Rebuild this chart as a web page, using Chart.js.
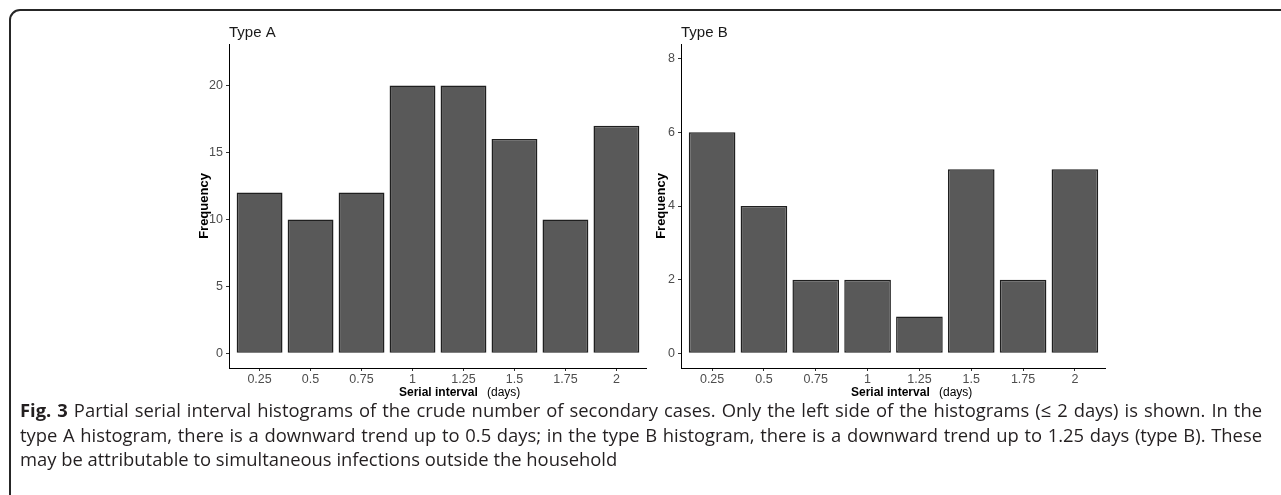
<!DOCTYPE html>
<html>
<head>
<meta charset="utf-8">
<script src="https://cdn.jsdelivr.net/npm/chart.js@4.4.1/dist/chart.umd.min.js"></script>
<style>
body{margin:0;background:#fff;width:1281px;height:495px;overflow:hidden;position:relative;font-family:"Liberation Sans",Arial,sans-serif}
#frame{position:absolute;left:9px;top:9px;width:1500px;height:600px;border:2px solid #262626;border-radius:11px}
canvas{position:absolute}
#chartA{left:190px;top:14px}
#chartB{left:640px;top:14px}
#caption{position:absolute;left:20px;top:398px;width:1242px;font-family:"Open Sans",sans-serif;font-size:18.4px;line-height:24.5px;color:#231f20}
#caption div{white-space:nowrap}
</style>
</head>
<body>
<div id="frame"></div>
<canvas id="chartA" width="457" height="394"></canvas>
<canvas id="chartB" width="466" height="394"></canvas>
<div id="caption">
<div><span class="fit"><b>Fig. 3</b> Partial serial interval histograms of the crude number of secondary cases. Only the left side of the histograms (≤ 2 days) is shown. In the</span></div>
<div><span class="fit">type A histogram, there is a downward trend up to 0.5 days; in the type B histogram, there is a downward trend up to 1.25 days (type B). These</span></div>
<div><span>may be attributable to simultaneous infections outside the household</span></div>
</div>
<script>

const intervals = [0.25, 0.5, 0.75, 1, 1.25, 1.5, 1.75, 2]
const intervalLabels = ["0.25", "0.5", "0.75", "1", "1.25", "1.5", "1.75", "2"]

const countsA = [12, 10, 12, 20, 20, 16, 10, 17]
const countsB = [6, 4, 2, 2, 1, 5, 2, 5]

const yTicksA = [0, 5, 10, 15, 20]
const yTicksB = [0, 2, 4, 6, 8]

const AXIS_FONT = "'Liberation Sans', Arial, sans-serif"

// x axis title is half bold, half plain, so it is drawn by hand
const xTitlePlugin = {
id: "xTitle",
afterDraw(chart){
const ctx = chart.ctx
const a = chart.chartArea
ctx.save()
ctx.fillStyle = "#000"
ctx.textBaseline = "middle"
ctx.font = "bold 12px " + AXIS_FONT
ctx.fillText("Serial interval", a.left + 170, a.bottom + 25)
ctx.font = "12px " + AXIS_FONT
ctx.fillText("(days)", a.left + 258, a.bottom + 25)
ctx.restore()
}
}

function makeChart(id, title, counts, yTicks, yMin, yMax, axisWidth, yTitlePad){

return new Chart(document.getElementById(id), {
type: "bar",
data: {
labels: intervals,
datasets: [{
data: counts,
backgroundColor: "#595959",
borderColor: "#1f1f1f",
borderWidth: 1.5,
borderSkipped: false,
categoryPercentage: 1,
barPercentage: 0.9
}]
},
options: {
responsive: false,
animation: false,
devicePixelRatio: 1,
layout: { padding: 0 },
plugins: {
legend: { display: false },
tooltip: { enabled: false },
title: {
display: true,
text: title,
align: "start",
fullSize: false,
color: "#1a1a1a",
font: { family: AXIS_FONT, size: 15, weight: "normal" },
padding: { top: 10, bottom: 2 }
}
},
scales: {
x: {
type: "linear",
offset: false,
min: intervals[0] - 0.15,
max: intervals[intervals.length - 1] + 0.15,
afterBuildTicks: s => { s.ticks = intervals.map(v => ({ value: v })) },
afterFit: s => { s.height = 40 },
ticks: {
autoSkip: false,
maxRotation: 0,
padding: 1,
color: "#4d4d4d",
font: { family: AXIS_FONT, size: 12.5 },
callback: (v, i) => intervalLabels[i]
},
grid: { offset: false, drawOnChartArea: false, drawTicks: true, tickLength: 3, color: "#333" },
border: { display: true, color: "#000", width: 1 }
},
y: {
min: yMin,
max: yMax,
afterBuildTicks: s => { s.ticks = yTicks.map(v => ({ value: v })) },
afterFit: s => { s.width = axisWidth },
ticks: {
padding: 3,
color: "#4d4d4d",
font: { family: AXIS_FONT, size: 12.5 },
callback: v => String(v)
},
grid: { drawOnChartArea: false, drawTicks: true, tickLength: 3, color: "#333" },
border: { display: true, color: "#000", width: 1 },
title: {
display: true,
text: "Frequency",
color: "#000",
font: { family: AXIS_FONT, size: 13, weight: "bold" },
padding: { top: yTitlePad, bottom: 0 }
}
}
}
},
plugins: [xTitlePlugin]
})

}

makeChart("chartA", "Type A", countsA, yTicksA, -1.1, 23.1, 39, 7)
makeChart("chartB", "Type B", countsB, yTicksB, -0.4, 8.4, 41, 14)

// stretch the first two caption lines to the full justified width
document.querySelectorAll("#caption .fit").forEach(line=>{
const target = 1242
const spaces = (line.textContent.match(/ /g) || []).length
const natural = line.getBoundingClientRect().width
if(spaces > 0){
line.style.wordSpacing = ((target - natural) / spaces) + "px"
}
})

</script>
</body>
</html>
